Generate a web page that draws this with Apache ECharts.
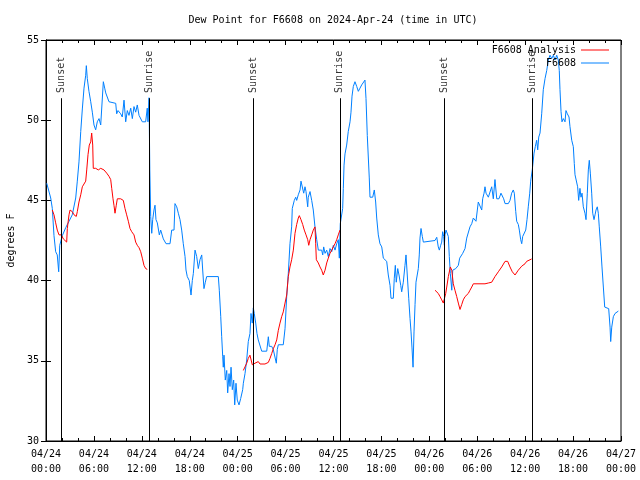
<!DOCTYPE html>
<html>
<head>
<meta charset="utf-8">
<script src="https://cdn.jsdelivr.net/npm/echarts@6/dist/echarts.min.js"></script>
<style>html,body{margin:0;padding:0;background:#fff;}#c{width:640px;height:480px;}</style>
</head>
<body>
<div id="c"></div>
<script>
// time in hours since 2024-04-24 00:00 UTC, value in degrees F
const tickLabels = ['04/24\n00:00','04/24\n06:00','04/24\n12:00','04/24\n18:00','04/25\n00:00','04/25\n06:00','04/25\n12:00','04/25\n18:00','04/26\n00:00','04/26\n06:00','04/26\n12:00','04/26\n18:00','04/27\n00:00'];

const sunEvents = [
  ['Sunset', 1.88], ['Sunrise', 12.9], ['Sunset', 25.95],
  ['Sunrise', 36.8], ['Sunset', 49.85], ['Sunrise', 60.9]
];

const obs = [
[0.09,46.07],[0.59,45.15],[0.79,44.5],[1.00,42.8],[1.21,41.8],[1.41,41.6],[1.59,40.55],[1.72,42.2],[2.04,42.8],[2.47,43.3],[2.88,43.7],[3.29,44.1],[3.72,45.15],[3.92,46.2],[4.13,47.4],[4.35,49.3],[4.55,50.7],[4.76,52.0],[4.97,52.8],[5.05,53.4],[5.17,52.6],[5.38,51.8],[5.60,51.15],[5.80,50.5],[6.01,49.7],[6.22,49.4],[6.42,49.9],[6.64,50.1],[6.85,49.7],[7.05,49.7],[7.18,52.4],[7.35,52.0],[7.48,51.7],[7.89,51.15],[8.73,51.05],[8.85,50.4],[9.02,50.6],[9.35,50.4],[9.55,50.2],[9.77,51.25],[9.98,49.9],[10.18,50.6],[10.39,50.3],[10.61,50.75],[10.81,50.1],[11.02,50.85],[11.23,50.5],[11.43,50.95],[11.65,50.3],[11.86,50.2],[12.06,49.9],[12.48,49.9],[12.68,50.75],[12.77,49.9],[12.90,51.4],[13.0,46.9],[13.11,44.0],[13.24,42.95],[13.36,43.8],[13.52,44.4],[13.65,44.7],[13.77,43.8],[13.94,43.6],[14.19,42.85],[14.36,43.15],[14.49,43.26],[14.69,42.6],[15.03,42.3],[15.53,42.3],[15.74,43.15],[16.03,43.15],[16.15,44.8],[16.37,44.6],[16.57,44.2],[16.78,43.8],[16.99,43.15],[17.19,42.3],[17.41,41.5],[17.53,40.66],[17.69,40.25],[17.94,40.0],[18.16,39.1],[18.32,40.0],[18.45,40.45],[18.66,41.9],[18.87,41.5],[19.07,40.75],[19.28,41.3],[19.50,41.6],[19.62,40.66],[19.78,39.5],[19.95,39.9],[20.12,40.25],[21.58,40.25],[21.70,39.4],[21.88,37.75],[22.00,36.5],[22.13,35.25],[22.20,34.6],[22.29,35.35],[22.45,33.8],[22.63,34.4],[22.75,33.0],[22.92,34.2],[23.04,33.4],[23.17,34.6],[23.33,33.2],[23.50,33.8],[23.63,32.25],[23.79,33.6],[23.95,32.55],[24.17,32.25],[24.38,32.65],[24.63,33.2],[24.71,33.6],[24.92,34.2],[25.13,35.05],[25.33,36.2],[25.54,36.7],[25.67,37.95],[25.83,37.35],[25.96,38.3],[26.08,37.95],[26.26,37.35],[26.42,36.7],[26.58,36.3],[26.80,36.2],[27.01,35.6],[27.64,35.6],[27.84,36.5],[27.96,35.9],[28.26,35.9],[28.46,35.7],[28.68,35.8],[28.84,34.85],[28.96,35.7],[29.09,36.0],[29.71,36.0],[29.93,37.0],[30.14,39.0],[30.34,40.45],[30.55,42.3],[30.76,43.35],[30.84,44.5],[31.09,45.0],[31.27,45.2],[31.39,45.0],[31.59,45.35],[31.81,45.65],[31.93,46.2],[32.14,46.2],[32.27,45.45],[32.43,45.85],[32.56,45.55],[32.77,44.6],[32.84,45.2],[33.06,45.55],[33.27,45.0],[33.47,44.4],[33.68,43.35],[33.90,42.55],[34.10,41.9],[34.52,41.9],[34.65,41.6],[34.77,42.1],[34.94,41.7],[35.15,41.9],[35.35,41.5],[35.56,42.0],[35.78,41.8],[35.98,42.2],[36.19,41.9],[36.40,42.3],[36.60,42.55],[36.73,41.4],[36.85,43.55],[37.03,43.5],[37.15,44.5],[37.23,45.75],[37.32,47.2],[37.44,47.9],[37.65,48.45],[37.85,49.3],[38.07,49.9],[38.19,50.5],[38.32,51.5],[38.48,52.1],[38.69,52.4],[38.91,52.1],[39.11,51.8],[39.32,52.0],[39.53,52.2],[39.73,52.2],[39.94,52.5],[40.07,51.35],[40.23,49.05],[40.48,46.4],[40.57,45.2],[40.91,45.2],[41.11,45.65],[41.28,44.9],[41.41,43.9],[41.61,42.85],[41.82,42.3],[42.04,42.1],[42.24,41.4],[42.66,41.2],[42.86,40.35],[43.08,39.7],[43.20,38.9],[43.49,38.9],[43.61,40.15],[43.74,40.95],[43.86,39.9],[44.04,40.75],[44.20,40.35],[44.42,39.7],[44.54,39.3],[44.74,39.9],[44.95,40.95],[45.08,41.6],[45.24,41.5],[45.42,38.9],[45.58,37.65],[45.71,36.8],[45.83,35.8],[45.96,34.6],[46.08,36.8],[46.21,38.5],[46.33,39.9],[46.49,39.9],[46.62,40.75],[46.74,41.6],[46.83,42.65],[46.96,43.25],[47.12,42.75],[47.25,42.4],[47.46,42.5],[48.71,42.5],[48.93,42.7],[49.12,42.1],[49.25,41.9],[49.42,42.2],[49.55,42.4],[49.67,43.05],[49.80,42.75],[49.88,42.2],[49.96,42.85],[50.09,43.15],[50.25,43.15],[50.38,42.75],[50.50,41.5],[50.63,40.45],[50.81,39.4],[50.93,40.65],[51.13,40.65],[51.31,40.75],[51.51,40.75],[51.63,40.95],[51.80,41.4],[52.05,41.4],[52.18,41.7],[52.47,42.0],[52.68,42.65],[52.88,42.75],[53.09,43.35],[53.31,43.55],[53.51,43.9],[53.72,43.8],[53.84,43.7],[54.01,44.4],[54.13,44.9],[54.35,44.8],[54.56,44.4],[54.68,45.1],[54.85,45.45],[54.97,45.85],[55.10,45.45],[55.22,45.55],[55.39,45.2],[55.60,45.3],[55.81,45.85],[56.01,45.1],[56.22,46.3],[56.44,45.1],[56.72,45.1],[56.97,45.45],[57.14,45.55],[57.31,45.1],[57.48,44.8],[57.89,44.8],[58.10,45.0],[58.31,45.45],[58.51,45.65],[58.64,45.45],[58.82,44.3],[58.94,43.7],[59.14,43.5],[59.27,43.15],[59.44,42.55],[59.57,42.3],[59.69,42.75],[59.89,42.85],[60.07,43.15],[60.23,43.8],[60.39,44.6],[60.57,45.45],[60.69,46.2],[60.89,46.9],[61.11,47.95],[61.27,48.35],[61.44,48.75],[61.57,48.15],[61.70,48.95],[61.86,49.2],[62.07,50.4],[62.27,51.9],[62.49,52.6],[62.70,53.1],[62.90,53.75],[63.11,54.05],[63.33,53.85],[63.53,54.05],[63.74,53.75],[63.95,54.05],[64.15,53.75],[64.27,53.1],[64.36,51.9],[64.49,50.55],[64.61,49.9],[64.78,50.1],[64.99,49.9],[65.11,50.6],[65.28,50.4],[65.49,50.2],[65.61,49.6],[65.83,48.75],[66.03,48.35],[66.15,47.3],[66.24,46.6],[66.45,46.7],[66.57,45.85],[66.70,45.0],[66.86,45.75],[66.99,45.2],[67.12,45.45],[67.28,44.6],[67.49,44.2],[67.62,43.8],[67.78,45.45],[67.91,46.9],[68.03,47.5],[68.16,46.7],[68.33,45.45],[68.46,44.2],[68.62,43.8],[68.75,44.1],[68.87,44.4],[69.03,44.6],[69.16,44.2],[69.28,43.35],[69.46,42.1],[69.62,40.85],[69.79,39.6],[69.96,38.35],[70.12,38.25],[70.46,38.25],[70.63,37.1],[70.71,36.2],[70.84,37.1],[71.04,37.75],[71.25,37.95],[71.46,38.05],[71.67,38.1]
];

const analysisSeg1 = [
[0.79,44.4],[1.00,44.1],[1.21,43.6],[1.41,43.15],[1.63,42.85],[1.92,42.85],[2.17,42.6],[2.38,42.5],[2.59,42.4],[2.67,43.25],[2.88,44.1],[3.01,44.4],[3.29,44.3],[3.51,44.1],[3.79,44.0],[3.92,44.3],[4.13,44.9],[4.35,45.35],[4.55,45.85],[4.76,45.95],[4.97,46.2],[5.10,46.9],[5.26,47.85],[5.42,48.45],[5.60,48.65],[5.72,49.2],[5.85,48.45],[5.92,47.0],[6.22,47.0],[6.55,46.9],[6.85,47.0],[7.05,47.1],[7.26,46.9],[7.60,46.7],[7.89,46.5],[8.10,46.3],[8.23,45.75],[8.39,45.1],[8.51,44.7],[8.64,44.2],[8.80,44.7],[8.93,45.1],[9.35,45.1],[9.68,45.0],[9.89,44.5],[10.10,44.1],[10.31,43.7],[10.52,43.25],[10.73,43.05],[11.02,42.85],[11.23,42.4],[11.43,42.2],[11.65,42.05],[11.86,41.8],[12.06,41.4],[12.27,40.95],[12.48,40.75],[12.68,40.7]
];
const analysisSeg2 = [
[24.71,34.4],[25.13,34.85],[25.33,35.15],[25.54,35.35],[25.67,35.45],[25.83,34.75],[26.17,34.85],[26.58,34.95],[26.80,34.8],[27.01,34.75],[27.42,34.8],[27.84,34.9],[28.05,35.15],[28.26,35.45],[28.46,35.75],[28.68,36.0],[28.89,36.3],[29.09,36.9],[29.30,37.35],[29.51,37.75],[29.71,38.05],[29.93,38.6],[30.14,39.1],[30.34,40.25],[30.55,40.85],[30.76,41.3],[30.97,41.9],[31.18,42.95],[31.39,43.5],[31.59,43.9],[31.72,44.05],[31.93,43.8],[32.14,43.5],[32.34,43.15],[32.56,42.85],[32.77,42.55],[32.90,42.2],[33.06,42.55],[33.27,42.85],[33.47,43.15],[33.68,43.35],[33.77,42.3],[33.85,41.3],[34.10,41.1],[34.31,40.85],[34.52,40.65],[34.72,40.35],[34.94,40.65],[35.15,41.1],[35.35,41.4],[35.56,41.7],[35.78,41.8],[35.98,42.1],[36.19,42.3],[36.40,42.55],[36.60,42.85],[36.81,43.15]
];
const analysisSeg3 = [
[48.71,39.4],[48.93,39.4],[49.12,39.2],[49.34,39.0],[49.55,38.8],[49.75,38.6],[49.88,38.6],[50.05,39.2],[50.18,39.6],[50.38,40.25],[50.50,40.25],[50.63,40.85],[50.72,40.95],[50.81,40.65],[51.00,39.8],[51.21,39.4],[51.43,39.0],[51.63,38.6],[51.84,38.2],[52.05,38.5],[52.25,38.8],[52.47,39.0],[52.68,38.95],[52.88,39.2],[53.09,39.4],[53.31,39.6],[53.51,39.8],[53.72,39.8],[54.97,39.8],[55.39,39.85],[55.81,39.9],[56.01,40.0],[56.22,40.25],[56.44,40.35],[56.64,40.55],[56.85,40.65],[57.06,40.85],[57.26,40.95],[57.48,41.2],[57.81,41.2],[58.10,40.85],[58.39,40.55],[58.73,40.35],[58.94,40.45],[59.14,40.65],[59.36,40.75],[59.57,40.9],[59.77,40.95],[59.98,41.05],[60.19,41.2],[60.39,41.25],[60.61,41.3],[60.81,41.35]
];

const analysis = analysisSeg1.concat([[18, null]], analysisSeg2, [[42, null]], analysisSeg3);

const FONT = 'DejaVu Sans Mono';
const chart = echarts.init(document.getElementById('c'), null, {renderer: 'canvas'});
const txt = {fontFamily: FONT, fontSize: 10, color: '#000'};

const sunLineTop = 51.37, sunLabelY = 51.7;

chart.setOption({
  animation: false,
  backgroundColor: '#fff',
  title: {
    text: 'Dew Point for F6608 on 2024-Apr-24 (time in UTC)',
    left: 333, top: 15, textAlign: 'center', padding: 0,
    textStyle: {fontFamily: FONT, fontSize: 10, fontWeight: 'normal', color: '#000'}
  },
  legend: [
    {data: ['F6608 Analysis'], right: 31, top: 45, padding: 0, icon: 'rect', itemWidth: 28, itemHeight: 1, textStyle: txt, align: 'right', itemGap: 0},
    {data: ['F6608'], right: 31, top: 58, padding: 0, icon: 'rect', itemWidth: 28, itemHeight: 1, textStyle: txt, align: 'right', itemGap: 0}
  ],
  grid: {left: 46, right: 19, top: 40, bottom: 39, show: true, borderColor: '#000', borderWidth: 1,
    containLabel: false, outerBoundsMode: 'none'},
  xAxis: [{
    type: 'value', min: 0, max: 72, interval: 6,
    axisLine: {show: true, lineStyle: {color: '#000', width: 1}},
    axisTick: {show: true, inside: true, length: 5, lineStyle: {color: '#000'}},
    minorTick: {show: true, splitNumber: 3, length: 3, lineStyle: {color: '#000'}},
    splitLine: {show: false},
    axisLabel: {margin: 6, lineHeight: 15, fontFamily: FONT, fontSize: 10, color: '#000',
      formatter: v => tickLabels[Math.round(v / 6)]}
  }, {
    type: 'value', min: 0, max: 72, interval: 6, position: 'top',
    axisLine: {show: true, lineStyle: {color: '#000', width: 1}},
    axisTick: {show: true, inside: true, length: 5, lineStyle: {color: '#000'}},
    minorTick: {show: true, splitNumber: 3, length: 3, lineStyle: {color: '#000'}},
    splitLine: {show: false}, axisLabel: {show: false}
  }],
  yAxis: [{
    type: 'value', min: 30, max: 55, interval: 5,
    name: 'degrees F', nameLocation: 'middle', nameGap: 30,
    nameTextStyle: {fontFamily: FONT, fontSize: 10, color: '#000'},
    axisLine: {show: true, lineStyle: {color: '#000', width: 1}},
    axisTick: {show: true, inside: true, length: 5, lineStyle: {color: '#000'}},
    splitLine: {show: false},
    axisLabel: {margin: 7, fontFamily: FONT, fontSize: 10, color: '#000'}
  }, {
    type: 'value', min: 30, max: 55, interval: 5, position: 'right',
    axisLine: {show: true, lineStyle: {color: '#000', width: 1}},
    axisTick: {show: true, inside: true, length: 5, lineStyle: {color: '#000'}},
    splitLine: {show: false}, axisLabel: {show: false}
  }],
  series: [
    {
      name: 'sun', type: 'scatter', symbolSize: 0, silent: true, z: 3,
      data: sunEvents.map(e => ({name: e[0], value: [e[1], sunLabelY]})),
      label: {show: true, formatter: p => p.name, rotate: 90, position: [0, 0],
        align: 'left', verticalAlign: 'middle', fontFamily: FONT, fontSize: 10, color: '#000'},
      markLine: {
        silent: true, symbol: ['none', 'none'], label: {show: false},
        lineStyle: {color: '#000', width: 1, type: 'solid'},
        emphasis: {disabled: true},
        data: sunEvents.map(e => [{coord: [e[1], 30]}, {coord: [e[1], sunLineTop]}])
      }
    },
    {
      name: 'F6608', type: 'line', data: obs, showSymbol: false, symbol: 'none',
      lineStyle: {color: '#0080ff', width: 1}, itemStyle: {color: '#0080ff'}, z: 2
    },
    {
      name: 'F6608 Analysis', type: 'line', data: analysis, showSymbol: false, symbol: 'none',
      connectNulls: false,
      lineStyle: {color: '#ff0000', width: 1}, itemStyle: {color: '#ff0000'}, z: 2
    }
  ]
});
</script>
</body>
</html>
